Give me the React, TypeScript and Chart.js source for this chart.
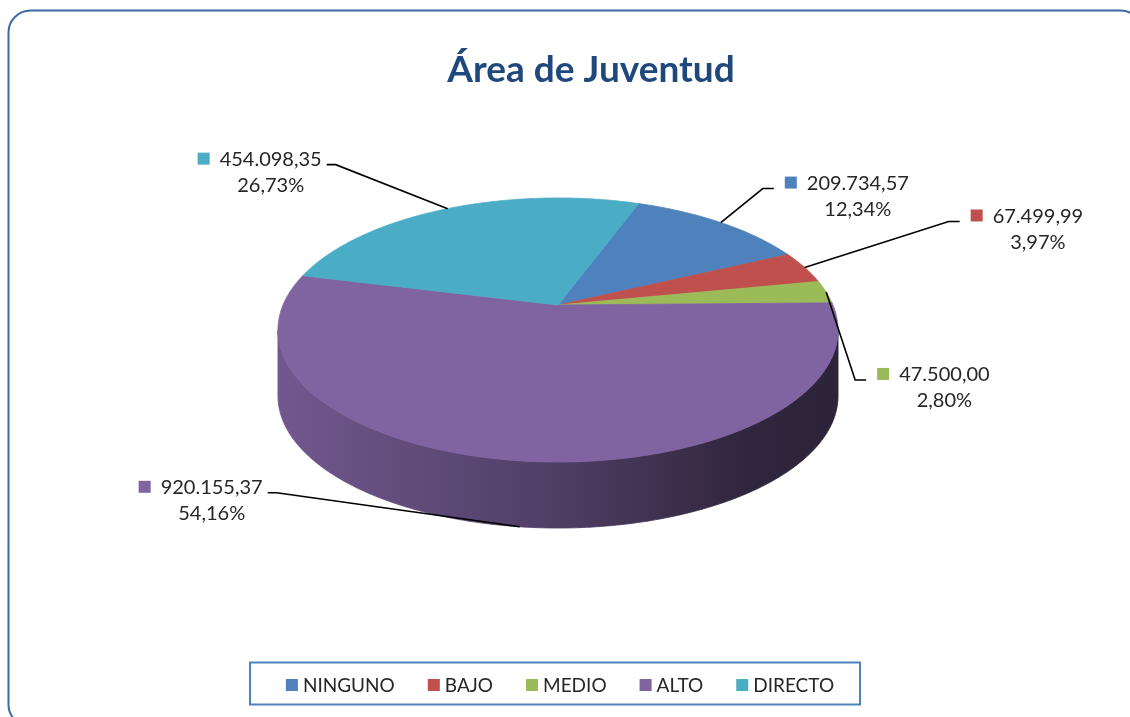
import React, { useEffect, useRef } from 'react';
import { Chart, ArcElement, PieController, registerables } from 'chart.js';

// ---------- data ----------
const CATEGORIES = ['NINGUNO', 'BAJO', 'MEDIO', 'ALTO', 'DIRECTO'];
const VALUES = [209734.57, 67499.99, 47500.0, 920155.37, 454098.35];
const COLORS = ['#4F81BD', '#C0504D', '#9BBB59', '#8064A2', '#4BACC6'];
const TITLE = 'Área de Juventud';

// ---------- styling / layout constants ----------
const FONT = 'Lato, "Open Sans", sans-serif';
const LABEL_ELBOWS: number[][] = [[42, -34], [144, -46], [29, 88], [-243, -34], [-112, -44]];
const TILT = 0.463; // vertical squash of the pie plane
const PERSP = 0.189; // perspective strength
const DEPTH = 0.24; // side height relative to radius

function geom(el: any) {
  const a = el.outerRadius;
  const b = a * TILT;
  const depth = a * DEPTH;
  const shift = (b / (1 - PERSP) + depth - b / (1 + PERSP)) / 2;
  return { cx: el.x, cy: el.y - shift, a, b, depth };
}

function project(g: any, theta: number, down = 0) {
  const u = Math.cos(theta);
  const v = Math.sin(theta);
  const d = 1 - PERSP * v;
  return { x: g.cx + (g.a * u) / d, y: g.cy + (g.b * v) / d + down };
}

function shade(hex: string, f: number) {
  const n = parseInt(hex.slice(1), 16);
  const r = Math.round(((n >> 16) & 255) * f);
  const gg = Math.round(((n >> 8) & 255) * f);
  const b = Math.round((n & 255) * f);
  return `rgb(${r},${gg},${b})`;
}

function fmtEs(v: number) {
  const [i, d] = v.toFixed(2).split('.');
  return i.replace(/\B(?=(\d{3})+(?!\d))/g, '.') + ',' + d;
}

class Arc3D extends ArcElement {
  static id = 'arc3d';
  draw(ctx: CanvasRenderingContext2D) {
    const self: any = this;
    const g = geom(self);
    const s = self.startAngle;
    const e = self.endAngle;
    const color = self.options.backgroundColor;
    const steps = Math.max(4, Math.ceil((e - s) / 0.01));
    ctx.save();
    ctx.beginPath();
    ctx.moveTo(g.cx, g.cy);
    for (let i = 0; i <= steps; i++) {
      const p = project(g, s + ((e - s) * i) / steps);
      ctx.lineTo(p.x, p.y);
    }
    ctx.closePath();
    ctx.fillStyle = color;
    ctx.fill();
    ctx.strokeStyle = color;
    ctx.lineWidth = 0.8;
    ctx.lineJoin = 'round';
    ctx.stroke();
    ctx.restore();
  }
}

class Pie3DController extends PieController {
  static id = 'pie3d';
  static defaults = { dataElementType: 'arc3d' };
}

Chart.register(...registerables);
Chart.register(Arc3D as any, Pie3DController as any);

const decorPlugin = {
  id: 'pie3dDecor',
  beforeDraw(chart: any) {
    const ctx = chart.ctx;
    ctx.save();
    ctx.fillStyle = '#ffffff';
    ctx.fillRect(0, 0, chart.width, chart.height);
    ctx.beginPath();
    ctx.roundRect(8.5, 10.5, 1134, 716, 22);
    ctx.strokeStyle = '#3F69A0';
    ctx.lineWidth = 2;
    ctx.stroke();
    ctx.restore();
  },
  beforeDatasetsDraw(chart: any) {
    const ctx = chart.ctx;
    const arcs = chart.getDatasetMeta(0).data;
    if (!arcs.length) return;
    const g = geom(arcs[0]);
    const thR = Math.asin(PERSP);
    const thL = Math.PI - thR;
    const colors = chart.data.datasets[0].backgroundColor;
    arcs.forEach((arc: any, i: number) => {
      for (let m = -2; m <= 2; m++) {
        const lo = Math.max(arc.startAngle, thR + 2 * Math.PI * m);
        const hi = Math.min(arc.endAngle, thL + 2 * Math.PI * m);
        if (hi <= lo) continue;
        const steps = Math.max(4, Math.ceil((hi - lo) / 0.01));
        ctx.save();
        ctx.beginPath();
        for (let k = 0; k <= steps; k++) {
          const p = project(g, lo + ((hi - lo) * k) / steps);
          if (k === 0) ctx.moveTo(p.x, p.y);
          else ctx.lineTo(p.x, p.y);
        }
        for (let k = steps; k >= 0; k--) {
          const p = project(g, lo + ((hi - lo) * k) / steps, g.depth);
          ctx.lineTo(p.x, p.y);
        }
        ctx.closePath();
        const grad = ctx.createLinearGradient(g.cx - g.a * 1.02, 0, g.cx + g.a * 1.02, 0);
        grad.addColorStop(0, shade(colors[i], 0.88));
        grad.addColorStop(0.5, shade(colors[i], 0.62));
        grad.addColorStop(0.85, shade(colors[i], 0.37));
        grad.addColorStop(1, shade(colors[i], 0.36));
        ctx.fillStyle = grad;
        ctx.fill();
        ctx.strokeStyle = grad;
        ctx.lineWidth = 0.8;
        ctx.stroke();
        ctx.restore();
      }
    });
  },
  afterDatasetsDraw(chart: any) {
    const ctx = chart.ctx;
    const arcs = chart.getDatasetMeta(0).data;
    if (!arcs.length) return;
    const g = geom(arcs[0]);
    const data: number[] = chart.data.datasets[0].data;
    const colors = chart.data.datasets[0].backgroundColor;
    const total = data.reduce((s, v) => s + v, 0);
    ctx.save();
    ctx.font = `20px ${FONT}`;
    ctx.textBaseline = 'alphabetic';
    arcs.forEach((arc: any, i: number) => {
      const mid = (arc.startAngle + arc.endAngle) / 2;
      const front = Math.sin(mid) > 0;
      const anchor = project(g, mid, front ? g.depth : 0);
      const [dx, dy] = LABEL_ELBOWS[i];
      const elbow = { x: anchor.x + dx, y: anchor.y + dy };
      const right = dx >= 0;
      const attach = { x: elbow.x + (right ? 11 : -9), y: elbow.y };
      ctx.strokeStyle = '#000000';
      ctx.lineWidth = 1.6;
      ctx.beginPath();
      ctx.moveTo(anchor.x, anchor.y);
      ctx.lineTo(elbow.x, elbow.y);
      ctx.lineTo(attach.x, attach.y);
      ctx.stroke();

      const valText = fmtEs(data[i]);
      const pctText = ((data[i] / total) * 100).toFixed(2).replace('.', ',') + '%';
      const w = ctx.measureText(valText).width;
      const base = attach.y + 1.5;
      let textLeft: number;
      let sqLeft: number;
      if (right) {
        sqLeft = attach.x + 11;
        textLeft = sqLeft + 12 + 10;
      } else {
        textLeft = attach.x - 5 - w;
        sqLeft = textLeft - 10 - 12;
      }
      ctx.fillStyle = colors[i];
      ctx.fillRect(sqLeft, base - 13.5, 12, 12);
      ctx.fillStyle = '#262626';
      ctx.textAlign = 'left';
      ctx.fillText(valText, textLeft, base);
      ctx.textAlign = 'center';
      ctx.fillText(pctText, textLeft + w / 2, base + 26);
    });
    ctx.restore();
  },
  afterDraw(chart: any) {
    const ctx = chart.ctx;
    ctx.save();
    // title
    ctx.font = `bold 37px ${FONT}`;
    ctx.fillStyle = '#1F497D';
    ctx.textAlign = 'center';
    ctx.textBaseline = 'alphabetic';
    ctx.fillText(TITLE, 591, 82);

    // legend
    const labels: string[] = chart.data.labels;
    const colors = chart.data.datasets[0].backgroundColor;
    ctx.font = `19px ${FONT}`;
    const BOX = 12;
    const GAP = 5;
    const SPACING = 33;
    const widths = labels.map((l) => ctx.measureText(l).width);
    const totalW = widths.reduce((s, w) => s + BOX + GAP + w, 0) + SPACING * (labels.length - 1);
    let x = 560 - totalW / 2;
    const cy = 685;
    ctx.textAlign = 'left';
    labels.forEach((l, i) => {
      ctx.fillStyle = colors[i];
      ctx.fillRect(x, cy - 6, BOX, BOX);
      ctx.fillStyle = '#262626';
      ctx.fillText(l, x + BOX + GAP, cy + 7);
      x += BOX + GAP + widths[i] + SPACING;
    });
    ctx.strokeStyle = '#4F81BD';
    ctx.lineWidth = 2;
    ctx.strokeRect(250, 662.5, 610, 42);
    ctx.restore();
  },
};

export default function App() {
  const ref = useRef<HTMLCanvasElement | null>(null);
  useEffect(() => {
    if (!ref.current) return;
    const chart = new Chart(ref.current, {
      type: 'pie3d' as any,
      data: {
        labels: CATEGORIES,
        datasets: [{ data: VALUES, backgroundColor: COLORS, borderWidth: 0 }],
      },
      options: {
        responsive: false,
        animation: false,
        devicePixelRatio: 1,
        rotation: 20.2,
        radius: 275,
        events: [],
        layout: { padding: { top: 198, bottom: 189, left: 0, right: 14 } },
        plugins: {
          legend: { display: false },
          title: { display: false },
          tooltip: { enabled: false },
        },
      } as any,
      plugins: [decorPlugin],
    });
    return () => chart.destroy();
  }, []);
  return (
    <div style={{ position: 'fixed', left: 0, top: 0, width: 1130, height: 717, background: '#fff' }}>
      <canvas ref={ref} width={1130} height={717} style={{ display: 'block', width: 1130, height: 717 }} />
    </div>
  );
}
